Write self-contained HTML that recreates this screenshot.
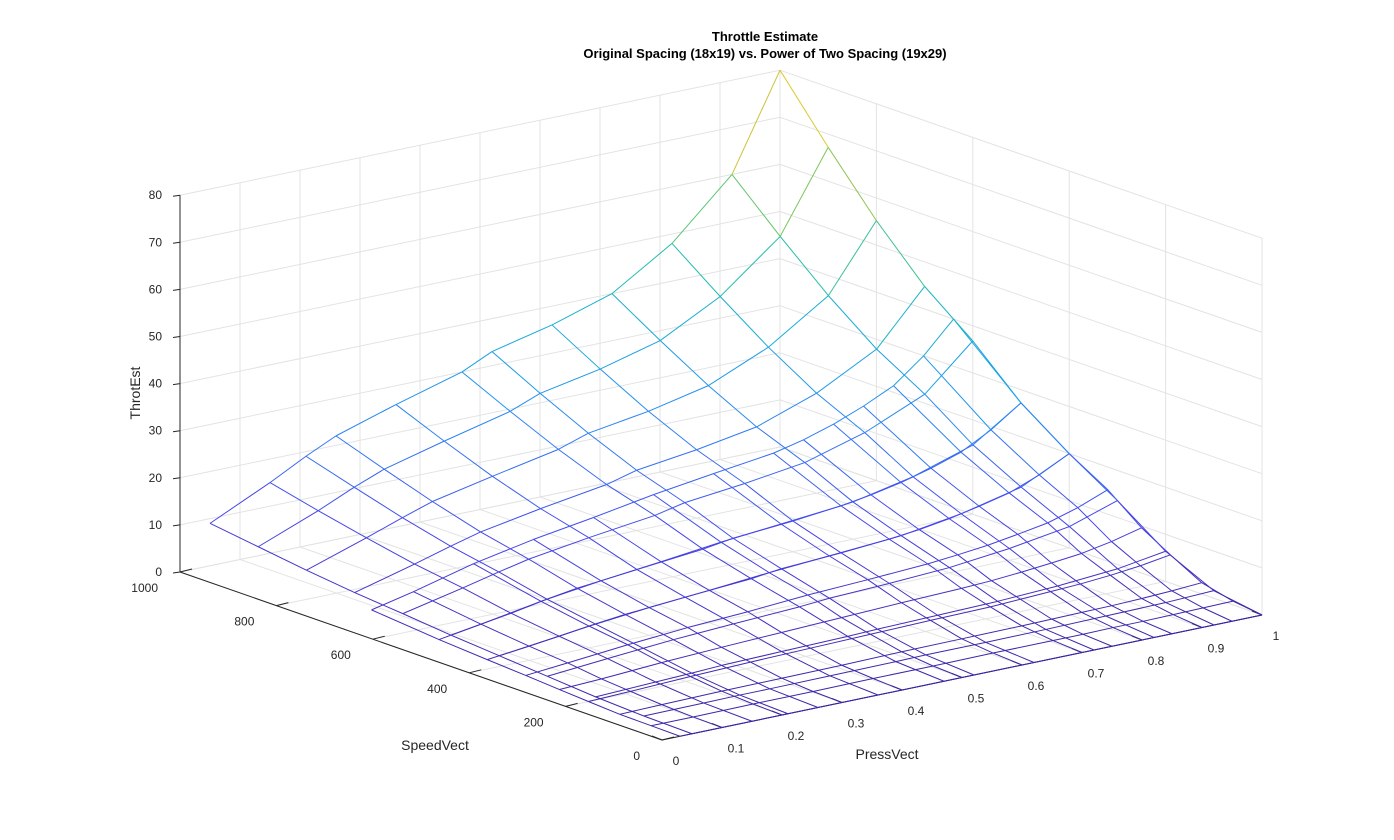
<!DOCTYPE html>
<html><head><meta charset="utf-8"><style>
body{margin:0;background:#fff;}
svg{display:block;font-family:"Liberation Sans",sans-serif;}
</style></head><body>
<svg id="chart" width="1394" height="840"></svg>
<script>
const speedVect=[0,100,200,300,400,500,600,700,800,900,1000];
const pressVect=[0.05,0.15,0.21,0.26,0.36,0.47,0.52,0.62,0.72,0.82,0.92,1.0];
const throtEst=[
[0,0,0,0,0,0,0,0,0,0,0,0],
[0.2,0.3,0.4,0.4,0.5,0.6,0.7,0.7,0.8,1,1.2,1.6],
[0.7,1.2,1.5,1.8,2.1,2.4,2.6,2.9,3.2,3.8,4.8,6.4],
[1.5,2.6,3.2,3.7,4.4,5.1,5.6,6.1,6.8,8.2,10.2,13.6],
[2.3,3.8,4.8,5.5,6.5,7.5,8.3,9,10,12,15,20],
[3.1,5.1,6.5,7.5,8.8,10.2,11.2,12.2,13.6,16.3,20.4,27.2],
[4.1,6.9,8.7,10.1,12,13.8,15.2,16.6,18.4,22.1,27.6,36.8],
[5,8.4,10.6,12.3,14.6,16.8,18.5,20.2,22.4,26.9,33.6,44.8],
[6.2,10.4,13.1,15.2,17.9,20.7,22.8,24.8,27.6,33.1,41.4,55.2],
[7.6,12.6,16,18.5,21.8,25.2,27.7,30.2,33.6,40.3,50.4,67.2],
[9,15,19,22,26,30,33,36,40,48,60,80]];
const speedVect2=[0,60,125,190,250,320,400,500,640];
const pressVect2=[0.03,0.1,0.2,0.3,0.4,0.5,0.6,0.7,0.75,0.8,0.85,0.9,0.95,1.0];
const throtEst2=[
[0,0,0,0,0,0,0,0,0,0,0,0,0,0],
[0.1,0.1,0.2,0.2,0.3,0.3,0.4,0.4,0.4,0.5,0.5,0.6,0.7,0.8],
[0.2,0.4,0.6,0.7,0.8,1,1.1,1.2,1.3,1.4,1.5,1.7,2,2.4],
[0.6,0.9,1.4,1.8,2.1,2.4,2.7,2.9,3.2,3.5,3.8,4.3,5,6],
[1,1.4,2.2,2.8,3.3,3.8,4.3,4.7,5,5.5,6.1,6.8,8,9.6],
[1.5,2.3,3.5,4.5,5.2,6.1,6.7,7.4,8,8.7,9.7,10.8,12.7,15.2],
[2,3,4.6,5.9,6.9,8,8.9,9.8,10.5,11.5,12.8,14.3,16.8,20],
[2.7,4.1,6.3,8,9.4,10.9,12.1,13.3,14.3,15.6,17.3,19.4,22.8,27.2],
[4,6,9.3,11.8,13.8,16,17.8,19.5,21,23,25.5,28.5,33.5,40]];
const zTicks=[0,10,20,30,40,50,60,70,80];
const sTicks=[0,200,400,600,800,1000];
const pTicks=[0,0.1,0.2,0.3,0.4,0.5,0.6,0.7,0.8,0.9,1];

const NS="http://www.w3.org/2000/svg";
const svg=document.getElementById('chart');
function P(s,p,z){const t=s/1000;return [662-482*t+600*p,740-168*t-125*p-z*4.71];}
function line(a,b,stroke,w,name){const l=document.createElementNS(NS,'line');
l.setAttribute('x1',a[0]);l.setAttribute('y1',a[1]);l.setAttribute('x2',b[0]);l.setAttribute('y2',b[1]);
l.setAttribute('stroke',stroke);l.setAttribute('stroke-width',w||1);


svg.appendChild(l);return l;}
function text(x,y,str,anchor,name,extra){const t=document.createElementNS(NS,'text');
t.setAttribute('x',x);t.setAttribute('y',y);t.setAttribute('text-anchor',anchor||'middle');
t.setAttribute('font-size',12);t.setAttribute('fill','#262626');t.textContent=str;
if(extra)for(const k in extra)t.setAttribute(k,extra[k]);


svg.appendChild(t);return t;}
const G='#e3e3e3';
pTicks.forEach(p=>line(P(1000,p,0),P(1000,p,80),G,1,'grid-line'));
zTicks.forEach(z=>line(P(1000,0,z),P(1000,1,z),G,1,'grid-line'));
sTicks.forEach(s=>line(P(s,1,0),P(s,1,80),G,1,'grid-line'));
zTicks.forEach(z=>line(P(0,1,z),P(1000,1,z),G,1,'grid-line'));
pTicks.forEach(p=>line(P(0,p,0),P(1000,p,0),G,1,'grid-line'));
sTicks.forEach(s=>line(P(s,0,0),P(s,1,0),G,1,'grid-line'));
const AX='#262626';
line(P(1000,0,0),P(1000,0,80),AX,1,'z-axis');
line(P(1000,0,0),P(0,0,0),AX,1,'speed-axis');
line(P(0,0,0),P(0,1,0),AX,1,'press-axis');
zTicks.forEach(z=>{const a=P(1000,0,z);line(a,[a[0]-7,a[1]+1],AX,1,'z-tick');
 text(a[0]-18,a[1]+4,String(z),'end','z-tick-label');});
sTicks.forEach(s=>{const a=P(s,0,0);line(a,[a[0]+12,a[1]-3],AX,1,'speed-tick');
 text(a[0]-22,a[1]+20,String(s),'end','speed-tick-label');});
pTicks.forEach(p=>{const a=P(0,p,0);line(a,[a[0]-10,a[1]-4],AX,1,'press-tick');
 text(a[0]+14,a[1]+25,String(p),'middle','press-tick-label');});
text(765,41,'Throttle Estimate','middle','chart-title',{'font-weight':'bold','font-size':13,'fill':'#000'});
text(765,58,'Original Spacing (18x19) vs. Power of Two Spacing (19x29)','middle','chart-subtitle',{'font-weight':'bold','font-size':13,'fill':'#000'});
text(140,393,'ThrotEst','middle','z-axis-title',{'font-size':14,'transform':'rotate(-90 140 393)'});
text(435,750,'SpeedVect','middle','speed-axis-title',{'font-size':14});
text(887,759,'PressVect','middle','press-axis-title',{'font-size':14});
const cmap=[[62,38,168],[71,68,236],[45,130,245],[22,170,220],[36,190,170],[110,200,95],[200,190,55],[245,220,40]];
function col(z){let t=Math.max(0,Math.min(1,z/80))*(cmap.length-1);const i=Math.min(cmap.length-2,Math.floor(t)),f=t-i;
 const c=cmap[i].map((v,k)=>Math.round(v+(cmap[i+1][k]-v)*f));return `rgb(${c})`;}
function mesh(S,Pv,Z){
for(let i=0;i<S.length;i++)for(let j=0;j<Pv.length;j++){
 const z=Z[i][j];const a=P(S[i],Pv[j],z);
 if(j+1<Pv.length){const z2=Z[i][j+1];line(a,P(S[i],Pv[j+1],z2),col((z+z2)/2),1,'mesh-edge');}
 if(i+1<S.length){const z2=Z[i+1][j];line(a,P(S[i+1],Pv[j],z2),col((z+z2)/2),1,'mesh-edge');}
}}
mesh(speedVect2,pressVect2,throtEst2);
mesh(speedVect,pressVect,throtEst);
</script>
</body></html>
